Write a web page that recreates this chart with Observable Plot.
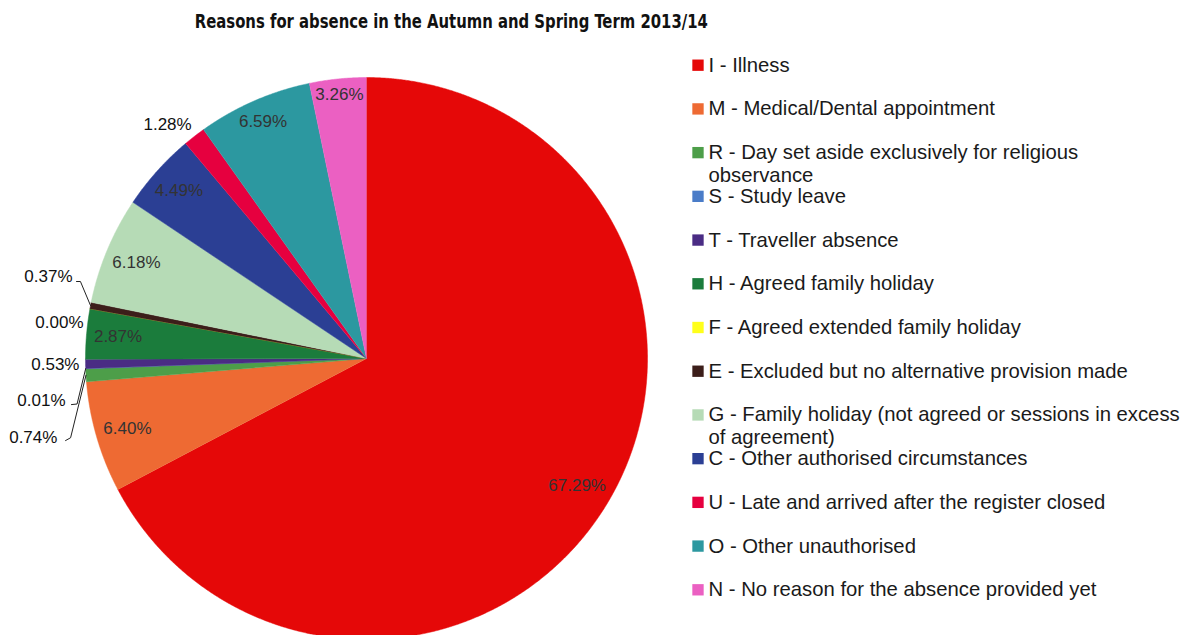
<!DOCTYPE html>
<html><head><meta charset="utf-8">
<script src="https://cdn.jsdelivr.net/npm/d3@7"></script>
<script src="https://cdn.jsdelivr.net/npm/@observablehq/plot@0.6"></script>
<style>
html,body{margin:0;padding:0;background:#fff;}
#wrap{position:relative;width:1188px;height:635px;overflow:hidden;}
#title{position:absolute;top:12px;left:0;width:903px;text-align:center;font-weight:bold;font-size:19px;font-family:"Liberation Sans Narrow","DejaVu Sans Condensed","Arial Narrow",sans-serif;line-height:19px;white-space:nowrap;color:#111;}
#title span{display:inline-block;transform-origin:center;}
#pie{position:absolute;left:0;top:0;}
#legend{position:absolute;left:680px;top:0;}
</style></head><body>
<div id="wrap"><div id="pie"></div><div id="legend"></div><div id="title"><span id="tspan">Reasons for absence in the Autumn and Spring Term 2013/14</span></div></div>
<script>
// ---- data ----
const codes = ["I","M","R","S","T","H","F","E","G","C","U","O","N"];
const reasons = [
  "I - Illness",
  "M - Medical/Dental appointment",
  "R - Day set aside exclusively for religious\nobservance",
  "S - Study leave",
  "T - Traveller absence",
  "H - Agreed family holiday",
  "F - Agreed extended family holiday",
  "E - Excluded but no alternative provision made",
  "G - Family holiday (not agreed or sessions in excess\nof agreement)",
  "C - Other authorised circumstances",
  "U - Late and arrived after the register closed",
  "O - Other unauthorised",
  "N - No reason for the absence provided yet"
];
const percents = [67.29, 6.40, 0.74, 0.01, 0.53, 2.87, 0.00, 0.37, 6.18, 4.49, 1.28, 6.59, 3.26];
const colors = ["#e50808","#ee6a33","#4d9e49","#4a7cc8","#4a2c84","#1b7c3c","#ffff1a","#3c1e1a","#b6dbb6","#2b3f94","#e6003f","#2c98a0","#eb60c2"];

// ---- layout (not data) ----
const CX = 366, CY = 358, R = 281;
const insideCodes = ["I","M","H","G","C","O","N"];
const outsideCodes = ["T"];
// manually moved labels (pie data units, y up) with leader elbows
const moved = {
  U: {x:-0.708, y:0.834, leader:null, anchor:"middle"},
  E: {x:-1.046, y:0.292, leader:[[-1.032,0.274],[-1.018,0.274]], anchor:"end"},
  F: {x:-1.007, y:0.128, leader:null, anchor:"end"},
  S: {x:-1.071, y:-0.149, leader:[[-1.050,-0.164],[-1.030,-0.162]], anchor:"end"},
  R: {x:-1.100, y:-0.283, leader:[[-1.071,-0.292],[-1.053,-0.282]], anchor:"end"}
};

const table = codes.map((c,i)=>({code:c, reason:reasons[i], pct:percents[i], label:percents[i].toFixed(2)+"%"}));
const arcs = d3.pie().sort(null).value(d=>d.pct).startAngle(0).endAngle(2*Math.PI)(table);

// slice polygons
const poly = [];
arcs.forEach(a=>{
  const c = a.data.code;
  poly.push({code:c, x:0, y:0});
  const n = Math.max(2, Math.ceil((a.endAngle-a.startAngle)/(Math.PI/720)));
  for(let k=0;k<=n;k++){
    const t = a.startAngle + (a.endAngle-a.startAngle)*k/n;
    poly.push({code:c, x:Math.sin(t), y:Math.cos(t)});
  }
});

// labels
const ctx = document.createElement("canvas").getContext("2d");
const FS = 17;
ctx.font = FS+"px 'Liberation Sans'";
const labels = [], leaders = [];
arcs.forEach(a=>{
  const d = a.data, m = (a.startAngle+a.endAngle)/2;
  const s = Math.sin(m), co = Math.cos(m);
  const w = ctx.measureText(d.label).width, h = FS*0.75;
  const ext = Math.abs(s)*w/2 + Math.abs(co)*h/2;
  if (insideCodes.includes(d.code)) {
    const r = (R - 7 - ext)/R;
    labels.push({code:d.code, text:d.label, x:s*r, y:co*r, anchor:"middle", inside:true});
  } else if (outsideCodes.includes(d.code)) {
    const r = (R + 6 + ext)/R;
    labels.push({code:d.code, text:d.label, x:s*r, y:co*r, anchor:"middle", inside:false});
  } else if (moved[d.code]) {
    const mv = moved[d.code];
    labels.push({code:d.code, text:d.label, x:mv.x, y:mv.y, anchor:mv.anchor, inside:false});
    if (mv.leader) {
      mv.leader.forEach(p=>leaders.push({code:d.code, x:p[0], y:p[1]}));
      leaders.push({code:d.code, x:s, y:co});
    }
  }
});

const font = "Liberation Sans, Arial, sans-serif";
const pie = Plot.plot({
  width:1188, height:635, margin:0,
  x:{domain:[-1,1], range:[CX-R, CX+R], axis:null},
  y:{domain:[-1,1], range:[CY+R, CY-R], axis:null},
  color:{domain:codes, range:colors},
  style:{background:"transparent"},
  marks:[
    Plot.line(poly, {x:"x", y:"y", z:"code", fill:"code", stroke:"code", strokeWidth:0.5, curve:"linear"}),
    Plot.line(leaders, {x:"x", y:"y", z:"code", stroke:"#222", strokeWidth:1}),
    Plot.text(labels.filter(d=>d.inside), {x:"x", y:"y", text:"text", fontSize:FS, fontFamily:font, fill:"#333", textAnchor:"middle"}),
    Plot.text(labels.filter(d=>!d.inside && d.anchor==="middle"), {x:"x", y:"y", text:"text", fontSize:FS, fontFamily:font, fill:"#111", textAnchor:"middle"}),
    Plot.text(labels.filter(d=>d.anchor==="end"), {x:"x", y:"y", text:"text", fontSize:FS, fontFamily:font, fill:"#111", textAnchor:"end"})
  ]
});
document.getElementById("pie").appendChild(pie);

const legendRows = table.map(d=>{ const parts = d.reason.split("\n"); return {code:d.code, first:parts[0], second:parts[1]||null}; });
const LFS = 20.3;
const legend = Plot.plot({
  width:508, height:635, margin:0,
  y:{type:"point", domain:codes, range:[64.7, 589.3], padding:0, round:false, axis:null},
  color:{domain:codes, range:colors},
  style:{background:"transparent"},
  marks:[
    Plot.dot(legendRows, {y:"code", frameAnchor:"left", dx:17.5, symbol:"square", r:6.4, fill:"code", stroke:null}),
    Plot.text(legendRows, {y:"code", frameAnchor:"left", dx:28, text:"first", textAnchor:"start", fontSize:LFS, fontFamily:font, fill:"#1a1a1a"}),
    Plot.text(legendRows.filter(d=>d.second), {y:"code", frameAnchor:"left", dx:28, dy:22.5, text:"second", textAnchor:"start", fontSize:LFS, fontFamily:font, fill:"#1a1a1a"})
  ]
});
document.getElementById("legend").appendChild(legend);

const ts = document.getElementById("tspan");
const tw = ts.getBoundingClientRect().width;
ts.style.transform = "scaleX(" + (513/tw) + ")";
</script>
</body></html>
